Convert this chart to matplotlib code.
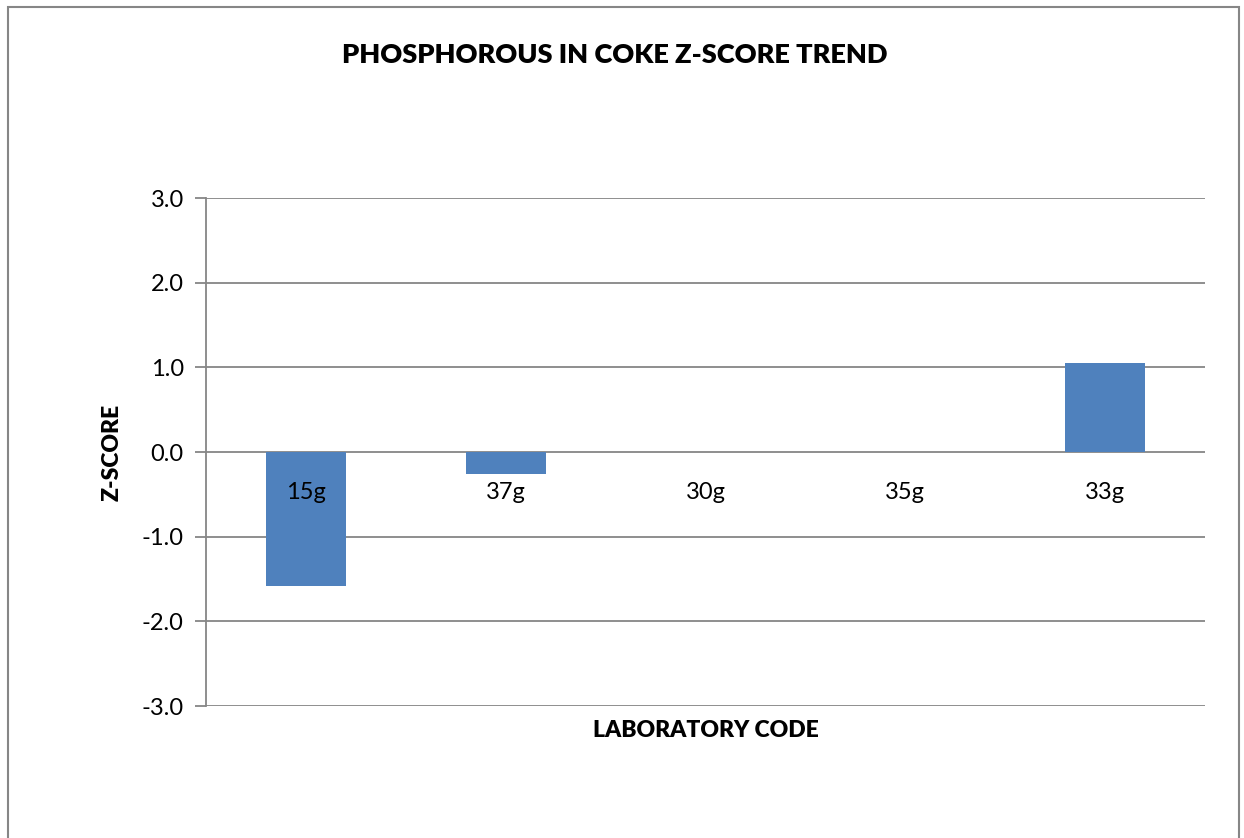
import matplotlib
matplotlib.use("Agg")
import matplotlib.pyplot as plt
from matplotlib.patches import Rectangle
import numpy as np

labs = ["15g", "37g", "30g", "35g", "33g"]
z_scores = [-1.58, -0.26, 0.0, 0.0, 1.05]
yticks = [-3.0, -2.0, -1.0, 0.0, 1.0, 2.0, 3.0]

plt.rcParams['font.family'] = ['Lato', 'DejaVu Sans']
grey = "#868686"

fig = plt.figure(figsize=(12.44, 8.38), dpi=100)
ax = fig.add_axes([0.1656, 0.1575, 0.8031, 0.6062])

x = np.arange(len(labs))
ax.bar(x, z_scores, width=0.4, color="#4F81BD", zorder=3)

ax.set_xlim(-0.5, len(labs) - 0.5)
ax.set_ylim(-3, 3)
ax.set_yticks(yticks)
ax.set_yticklabels([f"{v:.1f}" for v in yticks], fontsize=17)
ax.set_xticks([])
ax.grid(True, axis='y', color=grey, linewidth=1.3, zorder=1)
for side in ['top', 'right', 'bottom']:
    ax.spines[side].set_visible(False)
ax.spines['left'].set_color(grey)
ax.spines['left'].set_linewidth(1.3)
ax.tick_params(axis='y', length=8, width=1.3, color=grey, pad=8)

# category labels sit just under the zero line
for xi, lab in zip(x, labs):
    ax.text(xi, 0, lab, ha='center', va='center', fontsize=17,
            transform=ax.transData + matplotlib.transforms.ScaledTranslation(0, -0.4, fig.dpi_scale_trans))

ax.set_xlabel("LABORATORY CODE", fontsize=16.5, fontweight='heavy', labelpad=10)
ax.set_ylabel("Z-SCORE", fontsize=16.5, fontweight='heavy', labelpad=14)
fig.text(615 / 1244, 1 - 55 / 838, "PHOSPHOROUS IN COKE Z-SCORE TREND",
         ha='center', va='center', fontsize=19.5, fontweight='heavy')

# chart area border (bottom edge runs off the picture)
fig.add_artist(Rectangle((8 / 1244, -0.1), (1239 - 8) / 1244, 1.1 - 7 / 838,
                         transform=fig.transFigure, fill=False,
                         edgecolor=grey, linewidth=1.5))

fig.savefig("out.png", dpi=100)
